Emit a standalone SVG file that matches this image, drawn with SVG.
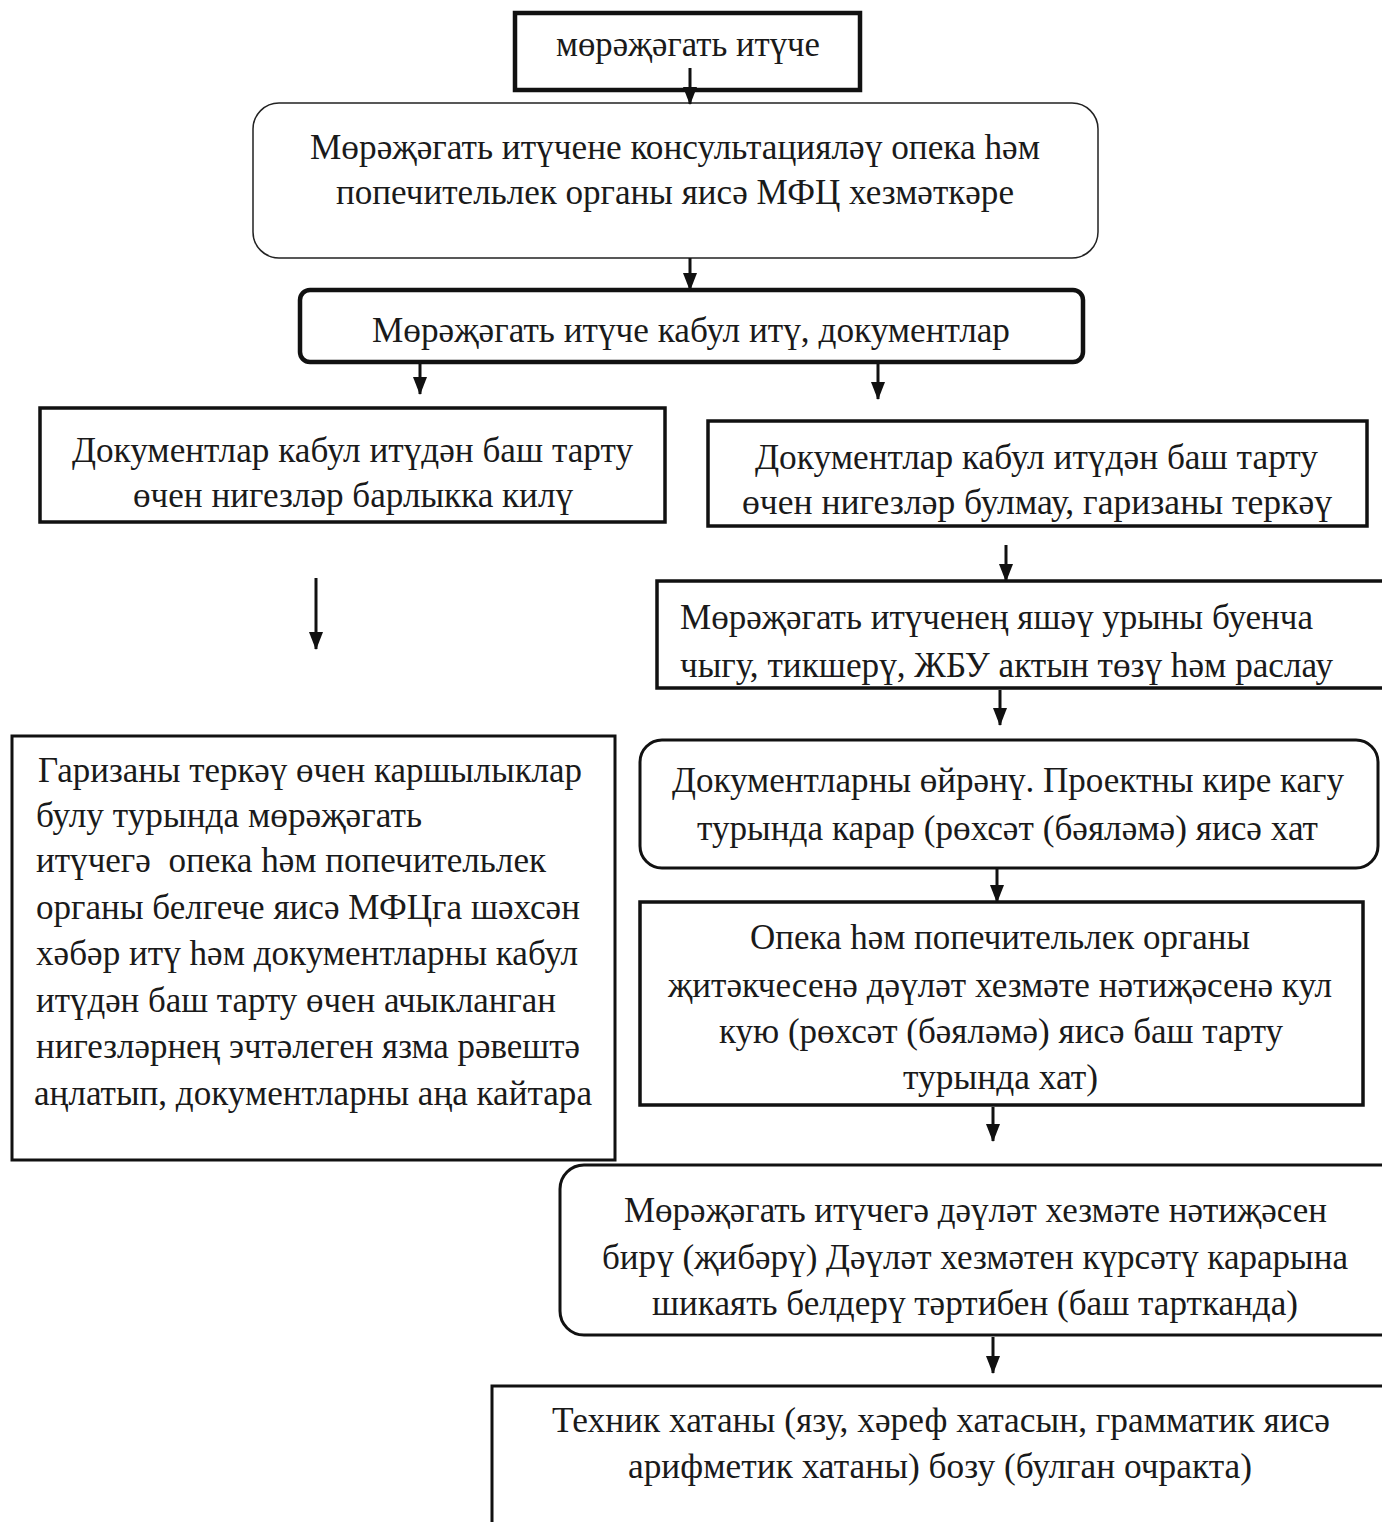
<svg xmlns="http://www.w3.org/2000/svg" width="1382" height="1522" viewBox="0 0 1382 1522">
<style>
.b{fill:#fff;stroke:#111;stroke-width:3.5}
.thin{fill:#fff;stroke:#222;stroke-width:1.5}
text{font-family:"Liberation Serif","DejaVu Serif",serif;font-size:35px;fill:#1a1a1a}
.c{stroke:#111;stroke-width:3;fill:none}
</style>
<defs>
<marker id="a" markerUnits="userSpaceOnUse" markerWidth="18" markerHeight="14" refX="17" refY="7" orient="auto" viewBox="0 0 18 14">
<path d="M0,0 L18,7 L0,14 Z" fill="#111"/>
</marker>
</defs>
<rect width="1382" height="1522" fill="#fff"/>

<g id="n1">
<rect class="b" x="515" y="13" width="345" height="77" style="stroke-width:4.5"/>
<text x="556" y="56" textLength="264" lengthAdjust="spacingAndGlyphs">мөрәҗәгать итүче</text>
</g>
<g id="n2">
<rect class="thin" x="253" y="103" width="845" height="155" rx="26"/>
<text x="310" y="159" textLength="730" lengthAdjust="spacingAndGlyphs">Мөрәҗәгать итүчене консультацияләү опека һәм</text>
<text x="336" y="204" textLength="678" lengthAdjust="spacingAndGlyphs">попечительлек органы яисә МФЦ хезмәткәре</text>
</g>
<g id="n3">
<rect class="b" x="300" y="290" width="783" height="72" rx="10" style="stroke-width:4.5"/>
<text x="372" y="342" textLength="638" lengthAdjust="spacingAndGlyphs">Мөрәҗәгать итүче кабул итү, документлар</text>
</g>
<g id="n4">
<rect class="b" x="40" y="408" width="625" height="114"/>
<text x="72" y="462" textLength="561" lengthAdjust="spacingAndGlyphs">Документлар кабул итүдән баш тарту</text>
<text x="133" y="507" textLength="440" lengthAdjust="spacingAndGlyphs">өчен нигезләр барлыкка килү</text>
</g>
<g id="n5">
<rect class="b" x="708" y="421" width="659" height="105"/>
<text x="755" y="469" textLength="563" lengthAdjust="spacingAndGlyphs">Документлар кабул итүдән баш тарту</text>
<text x="742" y="514" textLength="590" lengthAdjust="spacingAndGlyphs">өчен нигезләр булмау, гаризаны теркәү</text>
</g>
<g id="n6">
<rect class="b" x="657" y="581" width="760" height="107"/>
<text x="680" y="629" textLength="633" lengthAdjust="spacingAndGlyphs">Мөрәҗәгать итүченең яшәү урыны буенча</text>
<text x="680" y="677" textLength="653" lengthAdjust="spacingAndGlyphs">чыгу, тикшерү, ЖБУ актын төзү һәм раслау</text>
</g>
<g id="n7">
<rect class="b" x="640" y="740" width="738" height="128" rx="22" style="stroke-width:3"/>
<text x="672" y="792" textLength="672" lengthAdjust="spacingAndGlyphs">Документларны өйрәнү. Проектны кире кагу</text>
<text x="697" y="840" textLength="621" lengthAdjust="spacingAndGlyphs">турында карар (рөхсәт (бәяләмә) яисә хат</text>
</g>
<g id="n8">
<rect class="b" x="640" y="902" width="723" height="203"/>
<text x="750" y="949" textLength="500" lengthAdjust="spacingAndGlyphs">Опека һәм попечительлек органы</text>
<text x="668" y="997" textLength="664" lengthAdjust="spacingAndGlyphs">җитәкчесенә дәүләт хезмәте нәтиҗәсенә кул</text>
<text x="719" y="1043" textLength="564" lengthAdjust="spacingAndGlyphs">кую (рөхсәт (бәяләмә) яисә баш тарту</text>
<text x="903" y="1089" textLength="195" lengthAdjust="spacingAndGlyphs">турында хат)</text>
</g>
<g id="n9">
<rect class="b" x="560" y="1165" width="860" height="170" rx="24" style="stroke-width:3"/>
<text x="624" y="1222" textLength="703" lengthAdjust="spacingAndGlyphs">Мөрәҗәгать итүчегә дәүләт хезмәте нәтиҗәсен</text>
<text x="602" y="1269" textLength="746" lengthAdjust="spacingAndGlyphs">бирү (җибәрү) Дәүләт хезмәтен күрсәтү карарына</text>
<text x="652" y="1315" textLength="646" lengthAdjust="spacingAndGlyphs">шикаять белдерү тәртибен (баш тартканда)</text>
</g>
<g id="n10">
<rect class="b" x="492" y="1386" width="920" height="160" style="stroke-width:3"/>
<text x="552" y="1432" textLength="778" lengthAdjust="spacingAndGlyphs">Техник хатаны (язу, хәреф хатасын, грамматик яисә</text>
<text x="628" y="1478" textLength="624" lengthAdjust="spacingAndGlyphs">арифметик хатаны) бозу (булган очракта)</text>
</g>
<g id="n11">
<rect class="b" x="12" y="736" width="603" height="424" style="stroke-width:3"/>
<text x="38" y="782" textLength="544" lengthAdjust="spacingAndGlyphs">Гаризаны теркәү өчен каршылыклар</text>
<text x="36" y="827" textLength="386" lengthAdjust="spacingAndGlyphs">булу турында мөрәҗәгать</text>
<text x="36" y="872" textLength="510" lengthAdjust="spacingAndGlyphs" xml:space="preserve">итүчегә  опека һәм попечительлек</text>
<text x="36" y="919" textLength="544" lengthAdjust="spacingAndGlyphs">органы белгече яисә МФЦга шәхсән</text>
<text x="36" y="965" textLength="542" lengthAdjust="spacingAndGlyphs">хәбәр итү һәм документларны кабул</text>
<text x="36" y="1012" textLength="520" lengthAdjust="spacingAndGlyphs">итүдән баш тарту өчен ачыкланган</text>
<text x="36" y="1058" textLength="544" lengthAdjust="spacingAndGlyphs">нигезләрнең эчтәлеген язма рәвештә</text>
<text x="34" y="1105" textLength="558" lengthAdjust="spacingAndGlyphs">аңлатып, документларны аңа кайтара</text>
</g>

<g id="connectors">
<line class="c" x1="690" y1="68" x2="690" y2="104" marker-end="url(#a)"/>
<line class="c" x1="690" y1="258" x2="690" y2="290" marker-end="url(#a)"/>
<line class="c" x1="420" y1="362" x2="420" y2="394" marker-end="url(#a)"/>
<line class="c" x1="878" y1="362" x2="878" y2="399" marker-end="url(#a)"/>
<line class="c" x1="316" y1="578" x2="316" y2="649" marker-end="url(#a)"/>
<line class="c" x1="1006" y1="545" x2="1006" y2="581" marker-end="url(#a)"/>
<line class="c" x1="1000" y1="690" x2="1000" y2="725" marker-end="url(#a)"/>
<line class="c" x1="997" y1="868" x2="997" y2="902" marker-end="url(#a)"/>
<line class="c" x1="993" y1="1107" x2="993" y2="1141" marker-end="url(#a)"/>
<line class="c" x1="993" y1="1337" x2="993" y2="1373" marker-end="url(#a)"/>
</g>
</svg>
